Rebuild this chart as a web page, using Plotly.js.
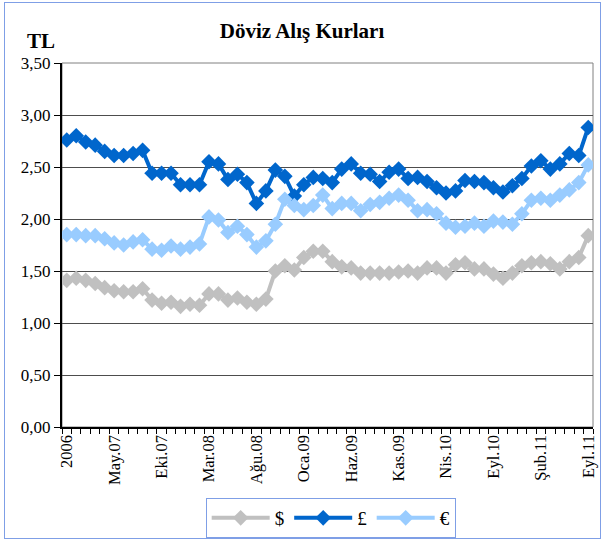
<!DOCTYPE html>
<html>
<head>
<meta charset="utf-8">
<script src="https://cdn.plot.ly/plotly-3.0.1.min.js"></script>
<style>
  html, body { margin: 0; padding: 0; background: #fff; }
  #wrap { position: relative; width: 604px; height: 543px; }
  #chart { width: 604px; height: 543px; }
  #frame { position: absolute; left: 4px; top: 2px; width: 595px; height: 535px;
           border: 1px solid #7f9fe6; pointer-events: none; }
</style>
</head>
<body>
<div id="wrap"><div id="chart"></div><div id="frame"></div></div>
<script>
// Tick labels (every 5th category shown, as in the reference)
const tickIndex = [0, 5, 10, 15, 20, 25, 30, 35, 40, 45, 50, 55];
const tickLabels = ["2006", "May.07", "Eki.07", "Mar.08", "Ağu.08", "Oca.09",
                    "Haz.09", "Kas.09", "Nis.10", "Eyl.10", "Şub.11", "Eyl.11"];

// Series values (TL), 56 observations each
const usd = [1.41, 1.43, 1.41, 1.38, 1.34, 1.31, 1.30, 1.30, 1.33, 1.22,
             1.19, 1.20, 1.16, 1.18, 1.17, 1.28, 1.28, 1.22, 1.24, 1.20,
             1.18, 1.23, 1.50, 1.55, 1.51, 1.63, 1.69, 1.69, 1.59, 1.54,
             1.53, 1.48, 1.48, 1.48, 1.48, 1.49, 1.50, 1.48, 1.53, 1.53,
             1.48, 1.56, 1.58, 1.52, 1.52, 1.47, 1.43, 1.48, 1.55, 1.58,
             1.59, 1.57, 1.52, 1.59, 1.63, 1.84];
const gbp = [2.76, 2.80, 2.74, 2.71, 2.65, 2.61, 2.61, 2.63, 2.66, 2.44,
             2.44, 2.44, 2.33, 2.33, 2.33, 2.55, 2.53, 2.38, 2.43, 2.35,
             2.15, 2.27, 2.47, 2.41, 2.22, 2.33, 2.40, 2.39, 2.35, 2.48,
             2.53, 2.44, 2.43, 2.36, 2.45, 2.48, 2.39, 2.40, 2.36, 2.30,
             2.25, 2.27, 2.37, 2.36, 2.35, 2.30, 2.26, 2.32, 2.39, 2.51,
             2.56, 2.48, 2.53, 2.63, 2.61, 2.88];
const eur = [1.85, 1.85, 1.84, 1.84, 1.81, 1.77, 1.75, 1.78, 1.80, 1.71,
             1.70, 1.74, 1.71, 1.73, 1.76, 2.02, 1.99, 1.87, 1.93, 1.85,
             1.73, 1.79, 1.95, 2.19, 2.13, 2.09, 2.13, 2.23, 2.10, 2.15,
             2.15, 2.08, 2.14, 2.16, 2.20, 2.23, 2.18, 2.08, 2.09, 2.05,
             1.96, 1.92, 1.93, 1.96, 1.93, 1.98, 1.97, 1.95, 2.05, 2.18,
             2.20, 2.18, 2.23, 2.28, 2.35, 2.52];

const xs = usd.map((_, i) => i);
const serif = "'Liberation Serif', 'Times New Roman', serif";

function series(name, y, color) {
  return {
    x: xs, y: y, name: name, type: "scatter", mode: "lines+markers",
    line: { color: color, width: 4 },
    marker: { symbol: "diamond", size: 12, color: color }
  };
}

const data = [
  series("$", usd, "#C0C0C0"),
  series("£", gbp, "#0066CC"),
  series("€", eur, "#99CCFF")
];

const layout = {
  width: 604, height: 543,
  margin: { l: 62, r: 11, t: 63, b: 116, autoexpand: false },
  paper_bgcolor: "#ffffff", plot_bgcolor: "#ffffff",
  separators: ",.",
  font: { family: serif, color: "#000", size: 17 },
  showlegend: true,
  title: { text: "<b>Döviz Alış Kurları</b>", x: 0.5, xanchor: "center",
           y: 0.943, yanchor: "middle", font: { family: serif, size: 21, color: "#000" },
           automargin: false },
  xaxis: {
    range: [-0.5, 55.5], tickmode: "array", tickvals: tickIndex, ticktext: tickLabels,
    tickangle: -90, ticks: "", showgrid: false, zeroline: false, automargin: false,
    showline: true, linecolor: "#000", linewidth: 1.5,
    tickfont: { family: serif, size: 16.5, color: "#000" },
    minor: { ticks: "outside", tick0: -0.5, dtick: 1, ticklen: 5, tickcolor: "#000", tickwidth: 1, showgrid: false }
  },
  yaxis: {
    range: [0, 3.5], dtick: 0.5, tickformat: ".2f", automargin: false,
    ticks: "outside", ticklen: 6, tickcolor: "#000",
    showgrid: true, gridcolor: "#4d4d4d", gridwidth: 1, zeroline: false,
    showline: true, linecolor: "#000", linewidth: 2,
    tickfont: { family: serif, size: 17, color: "#000" }
  },
  shapes: [
    { type: "rect", xref: "paper", yref: "paper", x0: 0, x1: 1, y0: 0, y1: 1,
      line: { color: "#808080", width: 1 }, layer: "below" }
  ],
  annotations: [
    { text: "<b>TL</b>", xref: "paper", yref: "paper", x: -0.04, y: 1.06,
      xanchor: "center", yanchor: "middle", showarrow: false,
      font: { family: serif, size: 21, color: "#000" } }
  ],
  legend: {
    orientation: "h", x: 0.506, xanchor: "center", y: -0.195, yanchor: "top",
    bordercolor: "#7f9fe6", borderwidth: 1, bgcolor: "#fff",
    font: { family: serif, size: 19, color: "#000" },
    itemwidth: 58, traceorder: "normal"
  }
};

Plotly.newPlot("chart", data, layout, { displayModeBar: false, staticPlot: true });
</script>
</body>
</html>
